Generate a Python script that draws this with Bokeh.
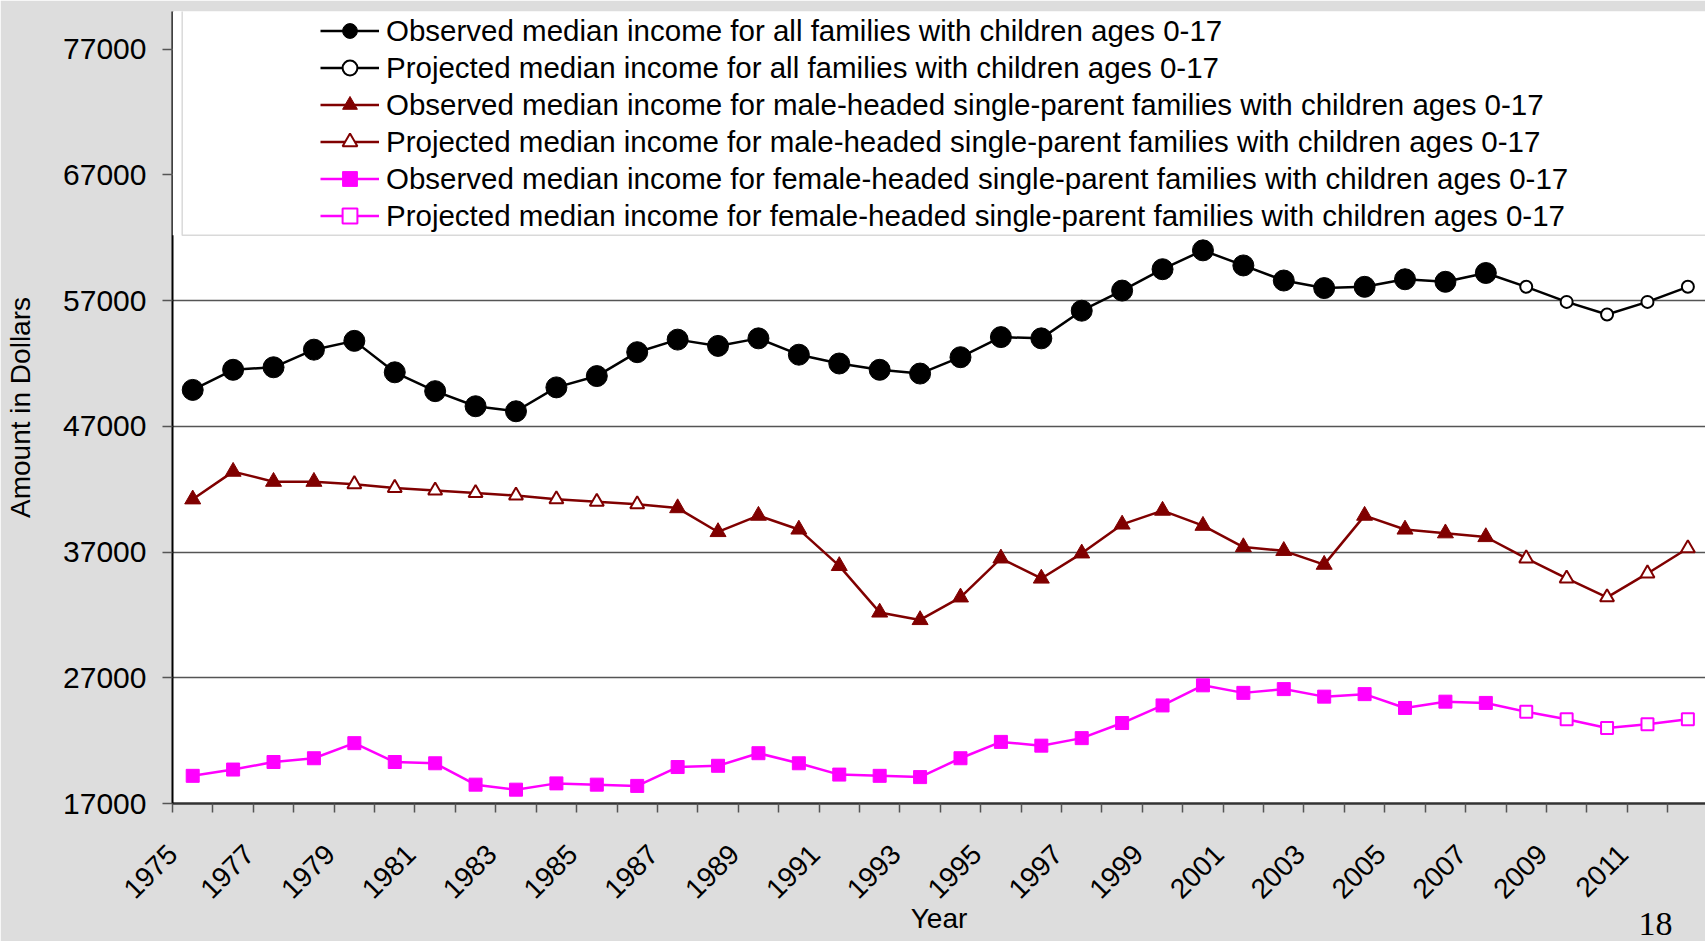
import math
from bokeh.plotting import figure
from bokeh.models import (Range1d, FixedTicker, Legend, LegendItem, Title, BoxAnnotation)
from bokeh.embed import file_html
from bokeh.resources import INLINE

# ---------------- data ----------------
years = list(range(1975, 2013))

all_families = [49900, 51500, 51700, 53100, 53800, 51300, 49800, 48600, 48200, 50100,
                51000, 52900, 53900, 53400, 54000, 52700, 52000, 51500, 51200, 52500,
                54100, 54000, 56200, 57800, 59500, 61000, 59800, 58600, 58000, 58100,
                58700, 58500, 59200, 58100, 56900, 55900, 56900, 58100]

male_headed = [41200, 43400, 42600, 42600, 42400, 42100, 41900, 41700, 41500, 41200,
               41000, 40800, 40500, 38600, 39900, 38800, 35900, 32200, 31600, 33400,
               36500, 34900, 36900, 39200, 40300, 39100, 37400, 37100, 36000, 39900,
               38800, 38500, 38200, 36500, 34900, 33400, 35300, 37300]

female_headed = [19200, 19700, 20300, 20600, 21800, 20300, 20200, 18500, 18100, 18600,
                 18500, 18400, 19900, 20000, 21000, 20200, 19300, 19200, 19100, 20600,
                 21900, 21600, 22200, 23400, 24800, 26400, 25800, 26100, 25500, 25700,
                 24600, 25100, 25000, 24300, 23700, 23000, 23300, 23700]

all_projected_years = [2008, 2009, 2010, 2011, 2012]
male_projected_years = [1979, 1980, 1981, 1982, 1983, 1984, 1985, 1986,
                        2008, 2009, 2010, 2011, 2012]
female_projected_years = [2008, 2009, 2010, 2011, 2012]

y_ticks = [17000, 27000, 37000, 47000, 57000, 67000, 77000]
x_tick_labels = ["1975", "1977", "1979", "1981", "1983", "1985", "1987", "1989", "1991",
                 "1993", "1995", "1997", "1999", "2001", "2003", "2005", "2007", "2009", "2011"]

legend_labels = [
    "Observed median income for all families with children ages 0-17",
    "Projected median income for all families with children ages 0-17",
    "Observed median income for male-headed single-parent families with children ages 0-17",
    "Projected median income for male-headed single-parent families with children ages 0-17",
    "Observed median income for female-headed single-parent families with children ages 0-17",
    "Projected median income for female-headed single-parent families with children ages 0-17",
]
page_number = "18"

# ---------------- layout ----------------
W, H = 1705, 941
LEFT, TOP, BOTTOM = 172, 11, 138
FRAME_W = W - LEFT
FRAME_H = H - TOP - BOTTOM
PX_PER_YEAR = 40.41
X0 = years[0] - 0.5
X1 = X0 + FRAME_W / PX_PER_YEAR
Y0, Y1 = 17000, 80000

FONT = "Liberation Sans"

p = figure(width=W, height=H, x_range=Range1d(X0, X1), y_range=Range1d(Y0, Y1),
           output_backend="svg", toolbar_location=None,
           min_border_left=LEFT, min_border_right=0, min_border_top=TOP,
           min_border_bottom=BOTTOM)
p.background_fill_color = "white"
p.border_fill_color = "#dddddd"
p.outline_line_color = None

# x axis: tick marks at category boundaries, labels every other year
label_shift = -0.1
x_label_ticks = [max(X0, int(l) - 0.5 + label_shift) for l in x_tick_labels]
p.xaxis.ticker = FixedTicker(ticks=x_label_ticks,
                             minor_ticks=[y - 0.5 for y in years] + [years[-1] + 0.5])
p.xaxis.major_label_overrides = {t: l for t, l in zip(x_label_ticks, x_tick_labels)}
p.xaxis.major_label_orientation = math.pi / 4
p.xaxis.major_tick_line_color = None
p.xaxis.major_tick_out = 0
p.xaxis.major_tick_in = 0
p.xaxis.minor_tick_out = 9
p.xaxis.minor_tick_in = 0
p.xaxis.minor_tick_line_color = "#555555"
p.xaxis.minor_tick_line_width = 1.5
p.xaxis.axis_line_color = "#333333"
p.xaxis.axis_line_width = 2.5
p.xaxis.major_label_standoff = 37
p.xaxis.major_label_text_font = FONT
p.xaxis.major_label_text_font_size = "28px"
p.xaxis.major_label_text_color = "black"
p.xaxis.axis_label = "Year"
p.xaxis.axis_label_text_font = FONT
p.xaxis.axis_label_text_font_size = "28px"
p.xaxis.axis_label_text_font_style = "normal"
p.xaxis.axis_label_text_color = "black"
p.xaxis.axis_label_standoff = -7

# y axis
p.yaxis.ticker = FixedTicker(ticks=y_ticks)
p.yaxis.minor_tick_line_color = None
p.yaxis.major_tick_out = 10
p.yaxis.major_tick_in = 0
p.yaxis.major_tick_line_color = "#555555"
p.yaxis.major_tick_line_width = 1.5
p.yaxis.axis_line_color = "black"
p.yaxis.axis_line_width = 2
p.yaxis.major_label_standoff = 16
p.yaxis.major_label_text_font = FONT
p.yaxis.major_label_text_font_size = "30px"
p.yaxis.major_label_text_color = "black"
p.yaxis.axis_label = "Amount in Dollars"
p.yaxis.axis_label_text_font = FONT
p.yaxis.axis_label_text_font_size = "28px"
p.yaxis.axis_label_text_font_style = "normal"
p.yaxis.axis_label_text_color = "black"
p.yaxis.axis_label_standoff = 24

p.xgrid.grid_line_color = None
p.ygrid.grid_line_color = "#555555"
p.ygrid.grid_line_width = 1.5


def split(values, proj_years):
    ox, oy, px, py = [], [], [], []
    for yr, v in zip(years, values):
        if yr in proj_years:
            px.append(yr); py.append(v)
        else:
            ox.append(yr); oy.append(v)
    return ox, oy, px, py


series = [
    (all_families, all_projected_years, "black", "circle", 21, 12),
    (male_headed, male_projected_years, "#800000", "triangle", 16, 14),
    (female_headed, female_projected_years, "#ff00ff", "square", 13, 12),
]

items = []
for i, (vals, proj, color, marker, s_obs, s_proj) in enumerate(series):
    ln = p.line(years, vals, line_color=color, line_width=2.5)
    ox, oy, px_, py_ = split(vals, proj)
    r_obs = p.scatter(ox, oy, marker=marker, size=s_obs, fill_color=color, line_color=color)
    r_proj = p.scatter(px_, py_, marker=marker, size=s_proj, fill_color="white",
                       line_color=color, line_width=2)
    items.append(LegendItem(label=legend_labels[2 * i], renderers=[ln, r_obs]))
    items.append(LegendItem(label=legend_labels[2 * i + 1], renderers=[ln, r_proj]))

# legend box (page pixel geometry converted to data units)
def px_x(px):
    return X0 + (px - LEFT) / PX_PER_YEAR


def px_y(py):
    return Y0 + (TOP + FRAME_H - py) * (Y1 - Y0) / FRAME_H


p.add_layout(BoxAnnotation(left=X0, right=X1 + 2, top=Y1 + 500, bottom=px_y(234.7),
                           fill_color="white", fill_alpha=1.0, line_color=None))
p.add_layout(BoxAnnotation(left=px_x(181.7), right=X1 + 2, top=px_y(10), bottom=px_y(234.7),
                           fill_alpha=0.0, line_color="#808080", line_width=1.5))

legend = Legend(items=items, location=(148, FRAME_H - 6 * 37 - 1),
                padding=0, margin=0, spacing=0,
                glyph_width=59, glyph_height=37, label_height=37, label_standoff=7,
                label_text_font=FONT, label_text_font_size="29.5px",
                label_text_color="black",
                background_fill_alpha=0.0, border_line_color=None)
p.add_layout(legend)

# page number at the bottom right
p.add_layout(Title(text=page_number, align="right", offset=33, vertical_align="top",
                   standoff=-48, text_font="Liberation Serif", text_font_size="34px",
                   text_font_style="normal", text_color="black"), "below")

html = file_html(p, INLINE)
html = html.replace("<body>", '<body style="background-color:#dddddd;">', 1)
open("out.html", "w").write(html)
